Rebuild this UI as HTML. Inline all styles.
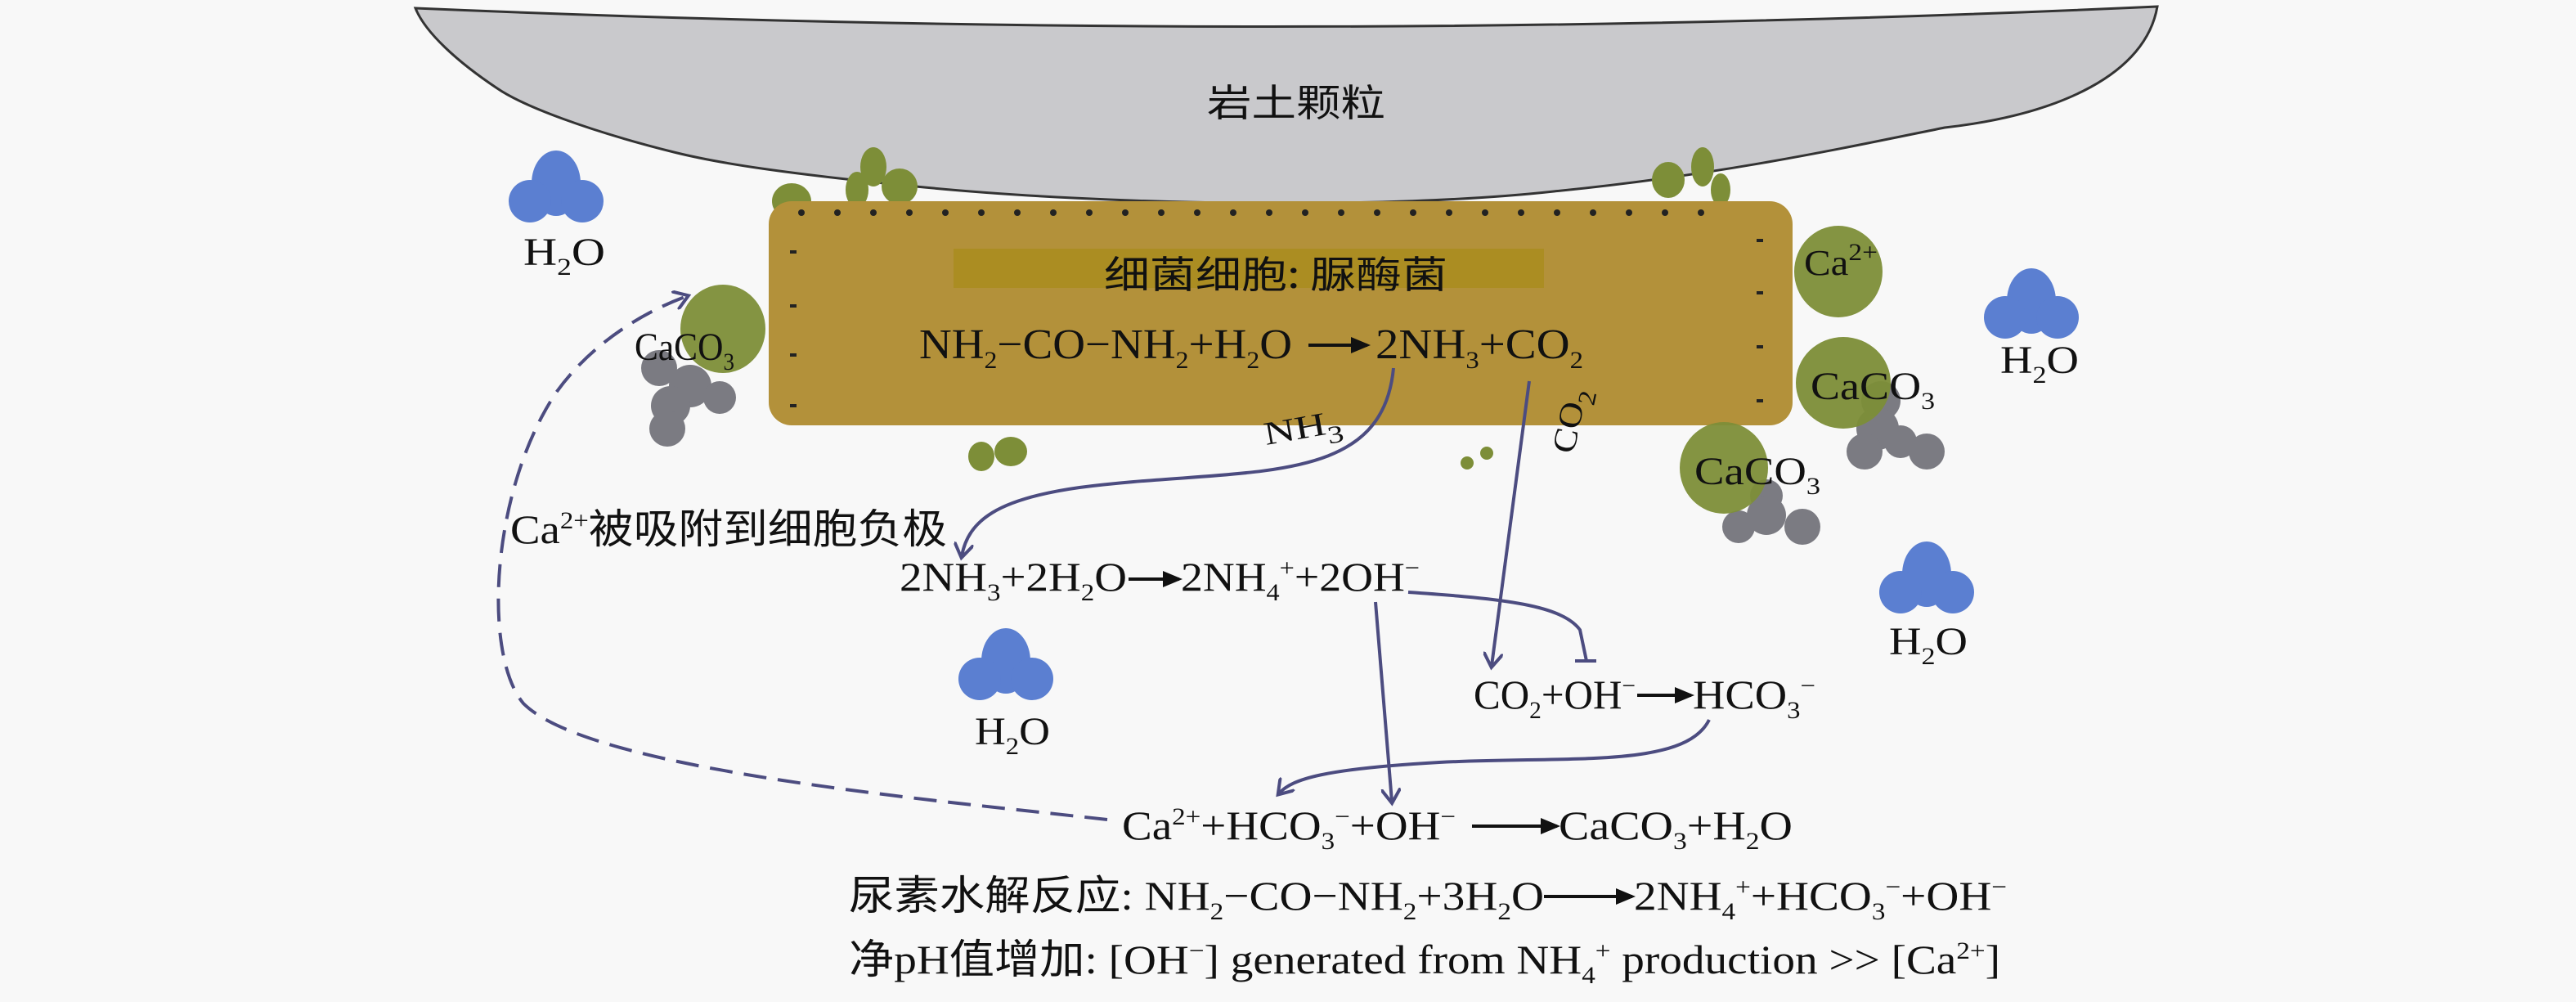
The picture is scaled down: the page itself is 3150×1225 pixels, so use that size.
<!DOCTYPE html>
<html><head><meta charset="utf-8"><style>
html,body{margin:0;padding:0;background:#f8f8f8;}
svg{display:block;}
text{font-family:"Liberation Serif","Noto Serif CJK SC","Noto Sans CJK SC",serif;fill:#111;}
.d{font-size:15px;baseline-shift:-6px;}
.u{font-size:15px;baseline-shift:9px;}
.cj{font-family:"Noto Sans CJK SC",sans-serif;}
</style></head><body>
<svg width="3150" height="1225" viewBox="0 0 1575 612.5" xmlns="http://www.w3.org/2000/svg">
<defs>
<marker id="ah" markerWidth="12" markerHeight="12" refX="8" refY="6" orient="auto" markerUnits="userSpaceOnUse"><path d="M0,0 L9,6 L0,12" fill="none" stroke="#4c4c80" stroke-width="2"/></marker>
<marker id="bk" markerWidth="12" markerHeight="10" refX="10" refY="5" orient="auto" markerUnits="userSpaceOnUse"><path d="M0,0 L12,5 L0,10 Z" fill="#111"/></marker>
</defs>
<rect width="1575" height="612.5" fill="#f8f8f8"/>
<!-- rock -->
<path d="M254,5 Q790,28 1319,4 C1312,45 1260,70 1189,78 C1120,92 1050,107 950,117 C850,128 680,126 560,114 C480,106 440,100 412,93 C360,80 320,65 304,54 C280,38 260,20 254,5 Z" fill="#c9c9cc" stroke="#333" stroke-width="1.5"/>
<text x="738" y="71" font-size="23" class="cj" textLength="109" lengthAdjust="spacingAndGlyphs">岩土颗粒</text>
<!-- green blobs -->
<g fill="#7d8e38">
<ellipse cx="484" cy="123" rx="12" ry="11"/>
<ellipse cx="534" cy="102" rx="8" ry="12"/>
<ellipse cx="550" cy="114" rx="11" ry="11"/>
<ellipse cx="524" cy="116" rx="7" ry="11"/>
<ellipse cx="1041" cy="102" rx="7" ry="12"/>
<ellipse cx="1020" cy="110" rx="10" ry="11"/>
<ellipse cx="1052" cy="116" rx="6" ry="10"/>
<ellipse cx="600" cy="279" rx="8" ry="9"/>
<ellipse cx="618" cy="276" rx="10" ry="9"/>
<ellipse cx="897" cy="283" rx="4" ry="4"/>
<ellipse cx="909" cy="277" rx="4" ry="4"/>
</g>
<!-- cell -->
<rect x="470" y="123" width="626" height="137" rx="14" fill="#b3913a"/>
<rect x="583" y="152" width="361" height="24" fill="#ab8d22"/>
<g fill="#222">
<circle cx="490" cy="130" r="2"/><circle cx="512" cy="130" r="2"/><circle cx="534" cy="130" r="2"/><circle cx="556" cy="130" r="2"/><circle cx="578" cy="130" r="2"/><circle cx="600" cy="130" r="2"/><circle cx="622" cy="130" r="2"/><circle cx="644" cy="130" r="2"/><circle cx="666" cy="130" r="2"/><circle cx="688" cy="130" r="2"/><circle cx="710" cy="130" r="2"/><circle cx="732" cy="130" r="2"/><circle cx="754" cy="130" r="2"/><circle cx="776" cy="130" r="2"/><circle cx="798" cy="130" r="2"/><circle cx="820" cy="130" r="2"/><circle cx="842" cy="130" r="2"/><circle cx="864" cy="130" r="2"/><circle cx="886" cy="130" r="2"/><circle cx="908" cy="130" r="2"/><circle cx="930" cy="130" r="2"/><circle cx="952" cy="130" r="2"/><circle cx="974" cy="130" r="2"/><circle cx="996" cy="130" r="2"/><circle cx="1018" cy="130" r="2"/><circle cx="1040" cy="130" r="2"/>
<rect x="483" y="153" width="4" height="2"/><rect x="483" y="186" width="4" height="2"/><rect x="483" y="216" width="4" height="2"/><rect x="483" y="247" width="4" height="2"/>
<rect x="1074" y="146" width="4" height="2"/><rect x="1074" y="178" width="4" height="2"/><rect x="1074" y="211" width="4" height="2"/><rect x="1074" y="244" width="4" height="2"/>
</g>
<text x="675" y="176" font-size="23" class="cj" textLength="210" lengthAdjust="spacingAndGlyphs">细菌细胞: 脲酶菌</text>
<text x="562" y="219" font-size="26" textLength="228" lengthAdjust="spacingAndGlyphs">NH<tspan class="d">2</tspan>−CO−NH<tspan class="d">2</tspan>+H<tspan class="d">2</tspan>O</text>
<line x1="800" y1="211" x2="836" y2="211" stroke="#111" stroke-width="2" marker-end="url(#bk)"/>
<text x="841" y="219" font-size="26" textLength="127" lengthAdjust="spacingAndGlyphs">2NH<tspan class="d">3</tspan>+CO<tspan class="d">2</tspan></text>
<!-- CaCO3 particles -->
<g fill="#7b7b82">
<circle cx="403" cy="225" r="11"/><circle cx="422" cy="236" r="13"/><circle cx="440" cy="243" r="10"/><circle cx="410" cy="248" r="12"/><circle cx="408" cy="262" r="11"/>
<circle cx="1150" cy="245" r="12"/><circle cx="1148" cy="262" r="13"/><circle cx="1140" cy="276" r="11"/><circle cx="1178" cy="276" r="11"/><circle cx="1162" cy="270" r="10"/>
<circle cx="1080" cy="303" r="10"/><circle cx="1080" cy="315" r="12"/><circle cx="1102" cy="322" r="11"/><circle cx="1063" cy="322" r="10"/>
</g>
<g fill="#7d8e38" opacity="0.95">
<ellipse cx="442" cy="201" rx="26" ry="27"/>
<ellipse cx="1124" cy="166" rx="27" ry="28"/>
<ellipse cx="1127" cy="234" rx="29" ry="28"/>
<ellipse cx="1054" cy="286" rx="27" ry="28"/>
</g>
<text x="388" y="220" font-size="24" textLength="61" lengthAdjust="spacingAndGlyphs">CaCO<tspan class="d">3</tspan></text>
<text x="1103" y="168" font-size="22" textLength="45" lengthAdjust="spacingAndGlyphs">Ca<tspan class="u">2+</tspan></text>
<text x="1107" y="244" font-size="24" textLength="76" lengthAdjust="spacingAndGlyphs">CaCO<tspan class="d">3</tspan></text>
<text x="1036" y="296" font-size="24" textLength="77" lengthAdjust="spacingAndGlyphs">CaCO<tspan class="d">3</tspan></text>
<!-- water -->
<g fill="#5b7fd1">
<ellipse cx="340" cy="112" rx="15" ry="20"/><circle cx="324" cy="123" r="13"/><circle cx="356" cy="123" r="13"/>
<ellipse cx="1242" cy="184" rx="15" ry="20"/><circle cx="1226" cy="194" r="13"/><circle cx="1258" cy="194" r="13"/>
<ellipse cx="1178" cy="351" rx="15" ry="20"/><circle cx="1162" cy="362" r="13"/><circle cx="1194" cy="362" r="13"/>
<ellipse cx="615" cy="404" rx="15" ry="20"/><circle cx="599" cy="415" r="13"/><circle cx="631" cy="415" r="13"/>
</g>
<text x="320" y="162" font-size="24" textLength="50" lengthAdjust="spacingAndGlyphs">H<tspan class="d">2</tspan>O</text>
<text x="1223" y="228" font-size="24" textLength="48" lengthAdjust="spacingAndGlyphs">H<tspan class="d">2</tspan>O</text>
<text x="1155" y="400" font-size="24" textLength="48" lengthAdjust="spacingAndGlyphs">H<tspan class="d">2</tspan>O</text>
<text x="596" y="455" font-size="24" textLength="46" lengthAdjust="spacingAndGlyphs">H<tspan class="d">2</tspan>O</text>
<!-- arrows -->
<g fill="none" stroke="#4c4c80" stroke-width="2">
<path d="M852,225 C845,300 760,285 660,298 C610,305 592,318 588,340" marker-end="url(#ah)"/>
<path d="M935,233 L912,407" marker-end="url(#ah)"/>
<path d="M841,368 L851,490" marker-end="url(#ah)"/>
<path d="M861,362 C920,366 955,370 966,385 L970,404"/>
<path d="M963,404 L976,404"/>
<path d="M1045,440 C1030,470 960,462 880,466 C810,470 790,476 782,485" marker-end="url(#ah)"/>
<path d="M677,501 C560,488 360,470 320,430 C295,400 300,300 340,240 C360,212 390,192 420,181" stroke-dasharray="14,7" marker-end="url(#ah)"/>
</g>
<text x="0" y="0" font-size="20" transform="translate(774,272) rotate(-10)" textLength="48" lengthAdjust="spacingAndGlyphs">NH<tspan class="d">3</tspan></text>
<text x="0" y="0" font-size="20" transform="translate(962,278) rotate(-78)" textLength="40" lengthAdjust="spacingAndGlyphs">CO<tspan class="d">2</tspan></text>
<text x="312" y="332" font-size="25" textLength="267" lengthAdjust="spacingAndGlyphs">Ca<tspan class="u">2+</tspan><tspan class="cj">被吸附到细胞负极</tspan></text>
<text x="550" y="361" font-size="25" textLength="139" lengthAdjust="spacingAndGlyphs">2NH<tspan class="d">3</tspan>+2H<tspan class="d">2</tspan>O</text>
<line x1="690" y1="354" x2="721" y2="354" stroke="#111" stroke-width="2" marker-end="url(#bk)"/>
<text x="722" y="361" font-size="25" textLength="146" lengthAdjust="spacingAndGlyphs">2NH<tspan class="d">4</tspan><tspan class="u">+</tspan>+2OH<tspan class="u">−</tspan></text>
<text x="901" y="433" font-size="25" textLength="99" lengthAdjust="spacingAndGlyphs">CO<tspan class="d">2</tspan>+OH<tspan class="u">−</tspan></text>
<line x1="1001" y1="425" x2="1034" y2="425" stroke="#111" stroke-width="2" marker-end="url(#bk)"/>
<text x="1035" y="433" font-size="25" textLength="75" lengthAdjust="spacingAndGlyphs">HCO<tspan class="d">3</tspan><tspan class="u">−</tspan></text>
<text x="686" y="513" font-size="25" textLength="204" lengthAdjust="spacingAndGlyphs">Ca<tspan class="u">2+</tspan>+HCO<tspan class="d">3</tspan><tspan class="u">−</tspan>+OH<tspan class="u">−</tspan></text>
<line x1="900" y1="505" x2="952" y2="505" stroke="#111" stroke-width="2" marker-end="url(#bk)"/>
<text x="953" y="513" font-size="25" textLength="143" lengthAdjust="spacingAndGlyphs">CaCO<tspan class="d">3</tspan>+H<tspan class="d">2</tspan>O</text>
<text x="519" y="556" font-size="25" textLength="425" lengthAdjust="spacingAndGlyphs"><tspan class="cj">尿素水解反应</tspan>: NH<tspan class="d">2</tspan>−CO−NH<tspan class="d">2</tspan>+3H<tspan class="d">2</tspan>O</text>
<line x1="944" y1="548" x2="998" y2="548" stroke="#111" stroke-width="2" marker-end="url(#bk)"/>
<text x="999" y="556" font-size="25" textLength="228" lengthAdjust="spacingAndGlyphs">2NH<tspan class="d">4</tspan><tspan class="u">+</tspan>+HCO<tspan class="d">3</tspan><tspan class="u">−</tspan>+OH<tspan class="u">−</tspan></text>
<text x="519" y="595" font-size="25" textLength="704" lengthAdjust="spacingAndGlyphs"><tspan class="cj">净</tspan>pH<tspan class="cj">值增加</tspan>: [OH<tspan class="u">−</tspan>] generated from NH<tspan class="d">4</tspan><tspan class="u">+</tspan> production &gt;&gt; [Ca<tspan class="u">2+</tspan>]</text>
</svg>
</body></html>
